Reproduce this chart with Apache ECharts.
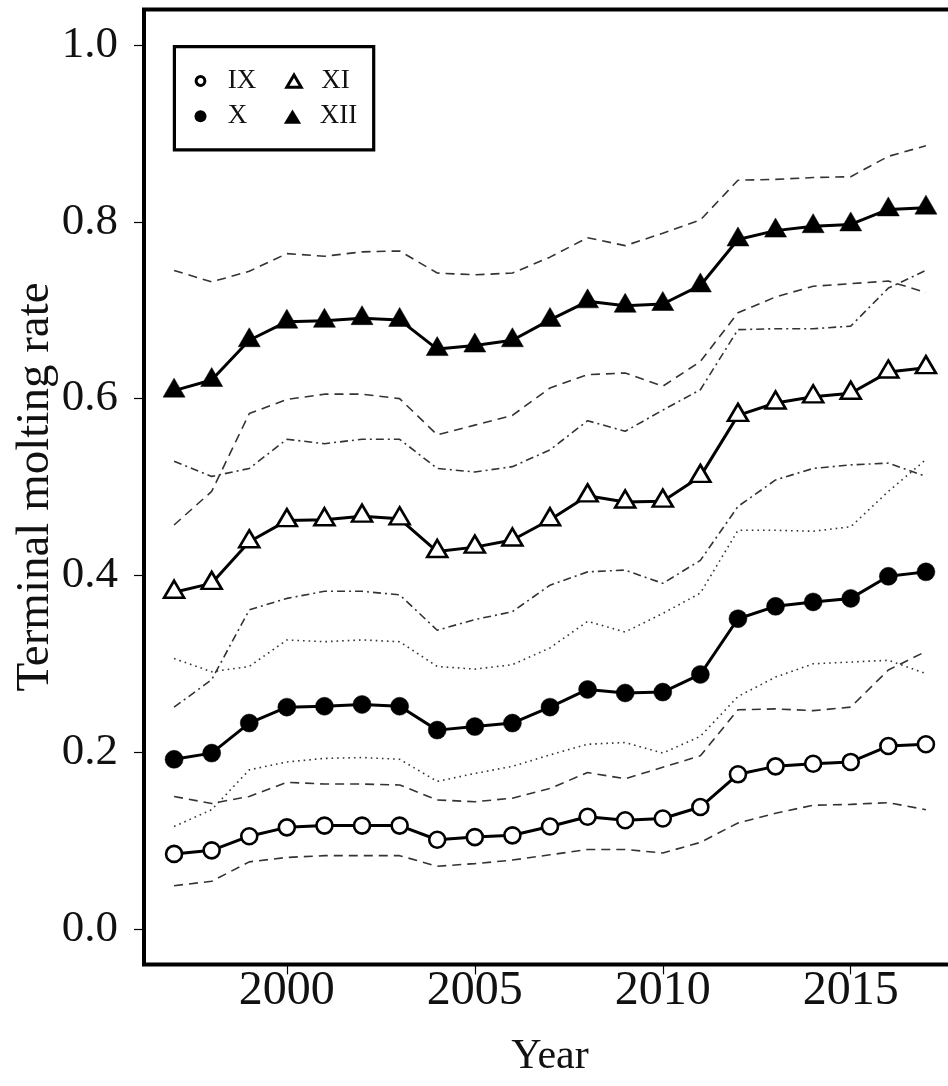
<!DOCTYPE html>
<html><head><meta charset="utf-8">
<script src="https://cdn.jsdelivr.net/npm/echarts@6/dist/echarts.min.js"></script>
<style>html,body{margin:0;padding:0;background:#fff}#c{width:948px;height:1086px}</style>
</head><body><div id="c"></div>
<script>
const years = [1997,1998,1999,2000,2001,2002,2003,2004,2005,2006,2007,2008,2009,2010,2011,2012,2013,2014,2015,2016,2017];
const ixRate  = [0.085,0.089,0.105,0.115,0.117,0.117,0.117,0.101,0.104,0.106,0.116,0.127,0.123,0.125,0.138,0.175,0.184,0.187,0.189,0.207,0.209];
const xRate   = [0.192,0.199,0.233,0.251,0.252,0.254,0.252,0.225,0.229,0.233,0.251,0.271,0.267,0.268,0.288,0.351,0.365,0.370,0.374,0.399,0.404];
const xiRate  = [0.381,0.391,0.438,0.462,0.463,0.467,0.464,0.427,0.432,0.440,0.463,0.490,0.483,0.484,0.512,0.581,0.595,0.602,0.606,0.630,0.635];
const xiiRate = [0.609,0.621,0.666,0.687,0.688,0.691,0.689,0.656,0.660,0.666,0.689,0.710,0.705,0.707,0.728,0.780,0.790,0.795,0.797,0.814,0.816];

const ixLow   = [0.049,0.054,0.076,0.081,0.083,0.083,0.083,0.071,0.074,0.078,0.084,0.090,0.090,0.086,0.098,0.120,0.131,0.140,0.141,0.143,0.135];
const ixHigh  = [0.150,0.142,0.150,0.166,0.164,0.164,0.163,0.146,0.144,0.148,0.159,0.177,0.170,0.183,0.196,0.248,0.249,0.247,0.251,0.293,0.314];
const xLow    = [0.116,0.135,0.180,0.189,0.193,0.194,0.192,0.167,0.176,0.184,0.197,0.209,0.211,0.199,0.218,0.263,0.285,0.300,0.302,0.304,0.289];
const xHigh   = [0.306,0.291,0.297,0.327,0.325,0.327,0.325,0.297,0.294,0.299,0.318,0.348,0.336,0.357,0.380,0.451,0.451,0.450,0.455,0.495,0.531];
const xiLow   = [0.251,0.282,0.361,0.374,0.382,0.382,0.378,0.338,0.350,0.359,0.389,0.404,0.406,0.391,0.417,0.478,0.508,0.521,0.525,0.527,0.512];
const xiHigh  = [0.529,0.512,0.521,0.554,0.549,0.554,0.554,0.521,0.517,0.523,0.542,0.575,0.563,0.587,0.610,0.678,0.679,0.679,0.682,0.725,0.745];
const xiiLow  = [0.457,0.495,0.583,0.599,0.605,0.605,0.600,0.559,0.570,0.581,0.612,0.627,0.629,0.614,0.642,0.697,0.715,0.727,0.730,0.733,0.720];
const xiiHigh = [0.745,0.732,0.744,0.764,0.761,0.766,0.767,0.742,0.740,0.742,0.760,0.782,0.773,0.787,0.802,0.847,0.848,0.850,0.851,0.874,0.886];

const yTicks = [0, 0.2, 0.4, 0.6, 0.8, 1.0];
const xTicks = [2000, 2005, 2010, 2015];
const seriesNames = ['IX', 'X', 'XI', 'XII'];

const FONT = 'Liberation Serif';
const pairs = v => years.map((y, i) => [y, v[i]]);

function mainSeries(name, vals, symbol, filled, size, offset) {
  return {
    type: 'line', name: name, data: pairs(vals), symbol: symbol, symbolSize: size,
    symbolOffset: offset, showSymbol: true, z: 5, silent: true,
    lineStyle: { color: '#000', width: 3 },
    itemStyle: { color: filled ? '#000' : '#fff', borderColor: '#000', borderWidth: filled ? 0.5 : 2.6 }
  };
}
function band(vals, dash) {
  return {
    type: 'line', data: pairs(vals), symbol: 'none', z: 2, silent: true,
    lineStyle: { color: '#333', width: 1.6, type: dash }
  };
}
const DASH = [9, 6], DOT = [1.6, 4], DASHDOT = [8, 4, 2, 4];

// legend icons (the leading moves only pad the icon box)
const ICON_OPEN_CIRCLE = 'path://M0,0M18,15M13.4,7.5A4.4,4.4,0,1,1,4.6,7.5A4.4,4.4,0,1,1,13.4,7.5Z';
const ICON_FILL_CIRCLE = 'path://M0,0M18,15M15,7.5A6,6,0,1,1,3,7.5A6,6,0,1,1,15,7.5Z';
const ICON_OPEN_TRI = 'path://M0,0M18,15M9,1.5L16.2,13.8L1.8,13.8Z';
const ICON_FILL_TRI = 'path://M0,0M18,15M9,0.6L17.6,15L0.4,15Z';

const chart = echarts.init(document.getElementById('c'), null, { renderer: 'canvas' });
chart.setOption({
  animation: false,
  backgroundColor: '#fff',
  grid: { left: 144, top: 9.6, width: 812, height: 954.8, show: true, borderColor: '#000', borderWidth: 4,
          backgroundColor: 'transparent', containLabel: false, outerBoundsMode: 'none' },
  xAxis: {
    type: 'value', min: 1996.2, max: 2017.8,
    axisLine: { show: false, onZero: false },
    splitLine: { show: false },
    axisTick: { show: true, length: 10, lineStyle: { color: '#000', width: 1.2 }, customValues: xTicks },
    axisLabel: { customValues: xTicks, formatter: v => String(v), fontFamily: FONT, fontSize: 48, color: '#111', margin: 3 },
    name: 'Year', nameLocation: 'middle', nameGap: 72,
    nameTextStyle: { fontFamily: FONT, fontSize: 42, color: '#111' }
  },
  yAxis: {
    type: 'value', min: -0.04, max: 1.04,
    axisLine: { show: false, onZero: false },
    splitLine: { show: false },
    axisTick: { show: true, length: 10, lineStyle: { color: '#000', width: 1.2 }, customValues: yTicks },
    axisLabel: { customValues: yTicks, formatter: v => v.toFixed(1), fontFamily: FONT, fontSize: 45, color: '#111', margin: 26 },
    name: 'Terminal molting rate', nameLocation: 'middle', nameGap: 85, nameRotate: 90, nameMoveOverlap: false,
    nameTextStyle: { fontFamily: FONT, fontSize: 47, color: '#111' }
  },
  legend: {
    show: true, left: 174.4, top: 46.6, orient: 'horizontal', width: 190,
    itemWidth: 18, itemHeight: 15, itemGap: 7.3, padding: [20.4, 4, 19.5, 15.6],
    symbolKeepAspect: true,
    borderColor: '#000', borderWidth: 3.2, backgroundColor: '#fff', borderRadius: 0,
    selectedMode: false,
    textStyle: { fontFamily: FONT, fontSize: 27, color: '#111', width: 48.5, lineHeight: 28, padding: [0, 0, 0, 13.2] },
    data: [
      { name: 'IX', icon: ICON_OPEN_CIRCLE, itemStyle: { color: '#fff', borderColor: '#000', borderWidth: 3 } },
      { name: 'XI', icon: ICON_OPEN_TRI, itemStyle: { color: '#fff', borderColor: '#000', borderWidth: 3 } },
      { name: 'X', icon: ICON_FILL_CIRCLE, itemStyle: { color: '#000', borderColor: '#000', borderWidth: 0 } },
      { name: 'XII', icon: ICON_FILL_TRI, itemStyle: { color: '#000', borderColor: '#000', borderWidth: 0 } }
    ]
  },
  series: [
    band(ixLow, DASH), band(ixHigh, DASH),
    band(xLow, DOT), band(xHigh, DOT),
    band(xiLow, DASHDOT), band(xiHigh, DASHDOT),
    band(xiiLow, DASH), band(xiiHigh, DASH),
    mainSeries(seriesNames[0], ixRate, 'circle', false, 16, [0, 0]),
    mainSeries(seriesNames[1], xRate, 'circle', true, 18, [0, 0]),
    mainSeries(seriesNames[2], xiRate, 'triangle', false, [20, 17], [0, -3]),
    mainSeries(seriesNames[3], xiiRate, 'triangle', true, [22, 19], [0, -3])
  ]
});
</script></body></html>
